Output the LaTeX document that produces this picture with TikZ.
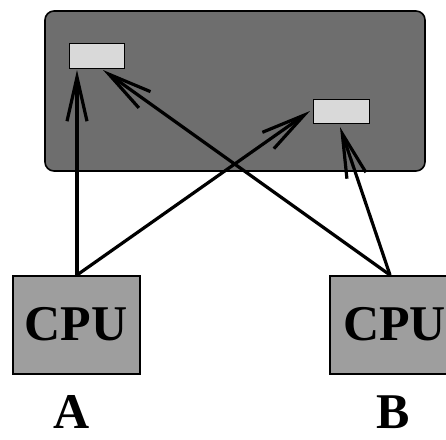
\documentclass[tikz,border=0pt]{standalone}
\usepackage{fontspec}
\setmainfont{Liberation Serif}
\usetikzlibrary{arrows.meta}
\begin{document}
\begin{tikzpicture}[x=1pt,y=-1pt,
  membox/.style={draw=black,line width=1.6pt,fill=black!57,rounded corners=9pt},
  cellbox/.style={draw=black,line width=1.3pt,fill=black!15},
  cpubox/.style={draw=black,line width=1.6pt,fill=black!38},
  big/.style={font=\fontsize{50}{50}\selectfont\bfseries,inner sep=0pt},
  conn/.style={line width=3.2pt,-{Straight Barb[length=44pt,width=20pt,line width=3.2pt]}}]
\useasboundingbox (0,0) rectangle (446,439);
\fill[white] (0,0) rectangle (446,439);
% memory
\draw[membox] (45,11) rectangle (425,171);
\node[cellbox,minimum width=55pt,minimum height=25pt,inner sep=0pt,anchor=north west] (b1) at (69,43) {};
\node[cellbox,minimum width=56pt,minimum height=24pt,inner sep=0pt,anchor=north west] (b2) at (313,99) {};
% CPUs
\node[cpubox,minimum width=127pt,minimum height=98pt,inner sep=0pt,anchor=north west] (cpuA) at (12,275) {};
\node[cpubox,minimum width=140pt,minimum height=98pt,inner sep=0pt,anchor=north west] (cpuB) at (329,275) {};
\node[big,anchor=base] (ta) at (76,340) {CPU};
\node[big,anchor=base west] (tb) at (343,340) {CPU};
\node[big,anchor=base] (la) at (72,428) {A};
\node[big,anchor=base] (lb) at (393,428) {B};
% connector end points
\coordinate (pA) at (77,275);
\coordinate (pB) at (390,275);
\coordinate (t1) at (77,70);
\coordinate (t2) at (310,111);
\coordinate (t3) at (103,70);
\coordinate (t4) at (340,127);
\draw[conn] (pA) -- (t1);
\draw[conn] (pA) -- (t2);
\draw[conn] (pB) -- (t3);
\draw[conn] (pB) -- (t4);
\end{tikzpicture}
\end{document}
